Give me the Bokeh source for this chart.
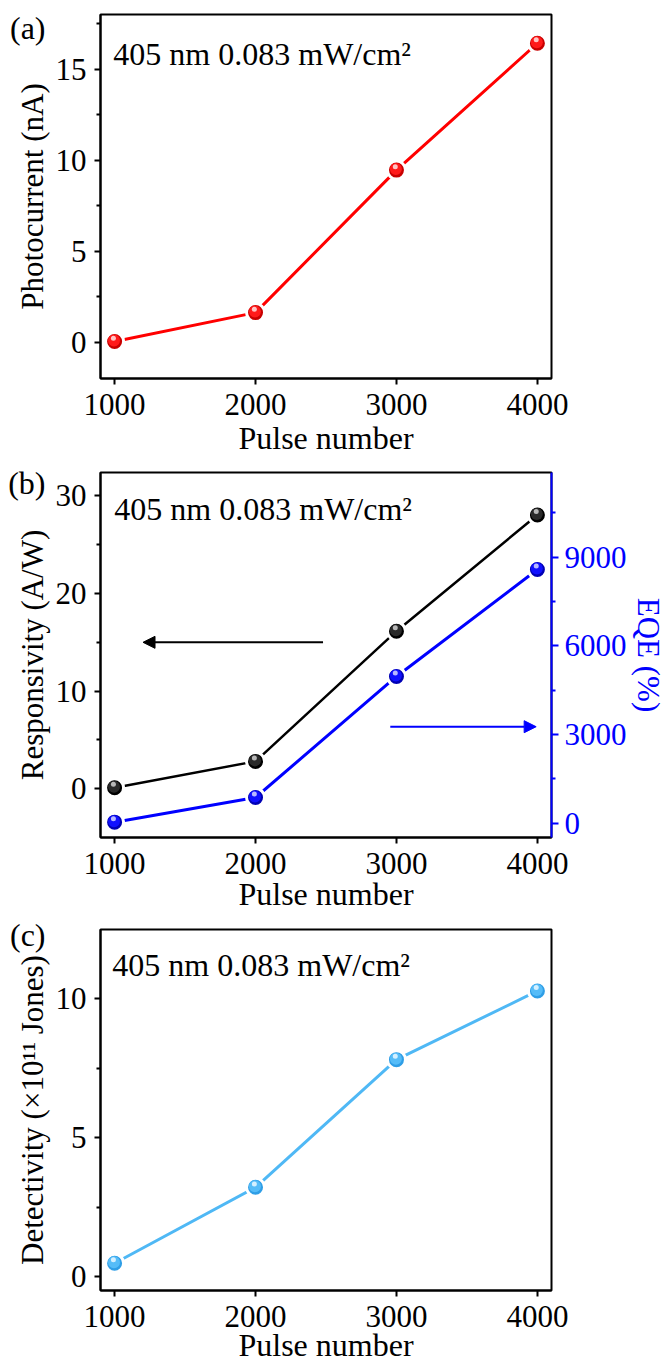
from bokeh.embed import file_html
from bokeh.layouts import column
from bokeh.models import Arrow, FixedTicker, Label, LinearAxis, NormalHead, Range1d
from bokeh.plotting import figure
from bokeh.resources import INLINE

# ---- data -------------------------------------------------------------
pulses = [1000, 2000, 3000, 4000]
photocurrent_nA = [0.03, 1.62, 9.45, 16.42]
responsivity_AW = [0.10, 2.80, 16.14, 28.05]
eqe_pct = [31, 865, 4960, 8580]
detectivity_1e11 = [0.48, 3.21, 7.80, 10.27]

pulse_ticks = [1000, 2000, 3000, 4000]
photo_ticks, photo_minor = [0, 5, 10, 15], [2.5, 7.5, 12.5, 17.5]
resp_ticks, resp_minor = [0, 10, 20, 30], [5, 15, 25]
eqe_ticks, eqe_minor = [0, 3000, 6000, 9000], [1500, 4500, 7500, 10500]
det_ticks, det_minor = [0, 5, 10], [2.5, 7.5]

condition_text = "405 nm 0.083 mW/cm\u00b2"

# ---- style ------------------------------------------------------------
FONT = "Liberation Serif"
TICK_PX = "31px"
LABEL_PX = "32px"
YLABEL_PX = "31px"
NOTE_PX = "32px"
BLUE = "#0000ff"
FRAME_W = 456


def frame_point(xr, yr, frame_h, dx, dy):
    """Data coordinates of a point dx px right of and dy px below the frame's top-left corner."""
    x = xr.start + dx * (xr.end - xr.start) / FRAME_W
    y = yr.end - dy * (yr.end - yr.start) / frame_h
    return x, y


def make_fig(height, top, bottom, xr, yr):
    p = figure(width=668, height=height, x_range=xr, y_range=yr,
               output_backend="svg", toolbar_location=None,
               min_border_left=100, min_border_right=112,
               min_border_top=top, min_border_bottom=bottom)
    p.grid.visible = False
    p.outline_line_color = "black"
    p.outline_line_width = 2
    p.outline_line_alpha = 1.0
    p.background_fill_color = "white"
    p.border_fill_color = "white"
    return p


def style_axis(ax, color="black", label_standoff=0, tick_standoff=4, label_size=LABEL_PX):
    ax.axis_line_color = color
    ax.axis_line_width = 2
    ax.major_tick_line_color = color
    ax.major_tick_line_width = 2
    ax.minor_tick_line_color = color
    ax.minor_tick_line_width = 2
    ax.major_tick_in = 0
    ax.major_tick_out = 6
    ax.minor_tick_in = 0
    ax.minor_tick_out = 4
    ax.major_label_text_font = FONT
    ax.major_label_text_font_size = TICK_PX
    ax.major_label_text_color = color
    ax.major_label_standoff = tick_standoff
    ax.axis_label_text_font = FONT
    ax.axis_label_text_font_size = label_size
    ax.axis_label_text_font_style = "normal"
    ax.axis_label_text_color = color
    ax.axis_label_standoff = label_standoff


def panel_tag(p, tag, yr, frame_h, dy):
    """Panel letter in the left margin, carried by the single label of a bare outer axis."""
    y = round(yr.end - dy * (yr.end - yr.start) / frame_h, 3)
    ax = LinearAxis(ticker=FixedTicker(ticks=[y]), major_label_overrides={y: tag})
    ax.axis_line_color = None
    ax.major_tick_line_color = None
    ax.minor_tick_line_color = None
    ax.major_tick_in = 0
    ax.major_tick_out = 0
    ax.minor_tick_in = 0
    ax.minor_tick_out = 0
    ax.major_label_standoff = -34
    ax.major_label_text_font = FONT
    ax.major_label_text_font_size = LABEL_PX
    ax.major_label_text_color = "black"
    p.add_layout(ax, "left")


def balls(p, xs, ys, shades, xr, yr, frame_h, range_name="default"):
    """Shaded spheres with a white ring that leaves a gap in the connecting line."""
    dark, main, light = shades
    ux = (xr.end - xr.start) / FRAME_W
    uy = (yr.end - yr.start) / frame_h
    p.scatter(xs, ys, size=18, fill_color=dark, line_color="white", line_width=3,
              y_range_name=range_name)
    p.scatter([x - 0.6 * ux for x in xs], [y + 1.0 * uy for y in ys], size=12,
              fill_color=main, line_color=None, y_range_name=range_name)
    p.scatter([x - 1.2 * ux for x in xs], [y + 3.4 * uy for y in ys], size=5,
              fill_color=light, line_color=None, y_range_name=range_name)


def add_text(p, x, y, text, size=NOTE_PX):
    p.add_layout(Label(x=x, y=y, text=text, text_font=FONT, text_font_size=size,
                       text_color="black", text_align="left",
                       text_baseline="alphabetic"))


def common_axes(p, x_label, y_label, y_ticks, y_minor, xl_standoff):
    p.xaxis.ticker = FixedTicker(ticks=pulse_ticks)
    p.xaxis.axis_label = x_label
    style_axis(p.xaxis[0], label_standoff=xl_standoff, tick_standoff=9)
    p.yaxis.ticker = FixedTicker(ticks=y_ticks, minor_ticks=y_minor)
    p.yaxis.axis_label = y_label
    style_axis(p.yaxis[0], label_standoff=3, tick_standoff=8, label_size=YLABEL_PX)


# ---- (a) photocurrent -------------------------------------------------
xa, ya, ha = Range1d(900, 4100), Range1d(-2, 18), 365
pa = make_fig(458, 14, 79, xa, ya)
common_axes(pa, "Pulse number", "Photocurrent (nA)", photo_ticks, photo_minor, 2)
pa.line(pulses, photocurrent_nA, line_color="#ff0000", line_width=3)
balls(pa, pulses, photocurrent_nA, ("#c80000", "#ff1a1a", "#ffc4c4"), xa, ya, ha)
add_text(pa, *frame_point(xa, ya, ha, 13, 40), condition_text)
panel_tag(pa, "(a)", ya, ha, 14)

# ---- (b) responsivity and EQE -----------------------------------------
xb, yb, hb = Range1d(900, 4100), Range1d(-5, 32.4), 365
eqe_range = Range1d(-488, 11860)
pb = make_fig(457, 14, 78, xb, yb)
pb.extra_y_ranges = {"eqe": eqe_range}
common_axes(pb, "Pulse number", "Responsivity (A/W)", resp_ticks, resp_minor, -1)

eqe_axis = LinearAxis(y_range_name="eqe", axis_label="EQE (%)",
                      ticker=FixedTicker(ticks=eqe_ticks, minor_ticks=eqe_minor))
style_axis(eqe_axis, color=BLUE, label_standoff=1, tick_standoff=6, label_size=YLABEL_PX)
eqe_axis.major_tick_out = 7
pb.add_layout(eqe_axis, "right")

pb.line(pulses, responsivity_AW, line_color="black", line_width=2.5)
pb.line(pulses, eqe_pct, line_color=BLUE, line_width=3, y_range_name="eqe")
balls(pb, pulses, responsivity_AW, ("#000000", "#2a2a2a", "#b8b8b8"), xb, yb, hb)
balls(pb, pulses, eqe_pct, ("#0000b4", "#1010ff", "#b8b8ff"), xb, eqe_range, hb, "eqe")

left_tail, _ = frame_point(xb, yb, hb, 225, 0)
left_tip, _ = frame_point(xb, yb, hb, 43, 0)
pb.add_layout(Arrow(end=NormalHead(size=12, fill_color="black", line_color="black"),
                    x_start=left_tail, y_start=15, x_end=left_tip, y_end=15,
                    line_color="black", line_width=2))
right_tail, _ = frame_point(xb, yb, hb, 293, 0)
right_tip, _ = frame_point(xb, yb, hb, 440.5, 0)
pb.add_layout(Arrow(end=NormalHead(size=12, fill_color=BLUE, line_color=BLUE),
                    x_start=right_tail, y_start=3260, x_end=right_tip, y_end=3260,
                    line_color=BLUE, line_width=2, y_range_name="eqe"))
add_text(pb, *frame_point(xb, yb, hb, 14, 36), condition_text)
panel_tag(pb, "(b)", yb, hb, 11)

# ---- (c) detectivity ---------------------------------------------------
xc, yc, hc = Range1d(900, 4100), Range1d(-0.5, 12.48), 364
pc = make_fig(450, 14, 72, xc, yc)
common_axes(pc, "Pulse number", "Detectivity (\u00d710\u00b9\u00b9 Jones)",
            det_ticks, det_minor, -3)
pc.line(pulses, detectivity_1e11, line_color="#4fb8f5", line_width=3)
balls(pc, pulses, detectivity_1e11, ("#2f9ee6", "#55bcf8", "#d4f0ff"), xc, yc, hc)
add_text(pc, *frame_point(xc, yc, hc, 12, 36), condition_text)
panel_tag(pc, "(c)", yc, hc, 3)

layout = column(pa, pb, pc, spacing=0)
open("out.html", "w").write(file_html(layout, INLINE))
